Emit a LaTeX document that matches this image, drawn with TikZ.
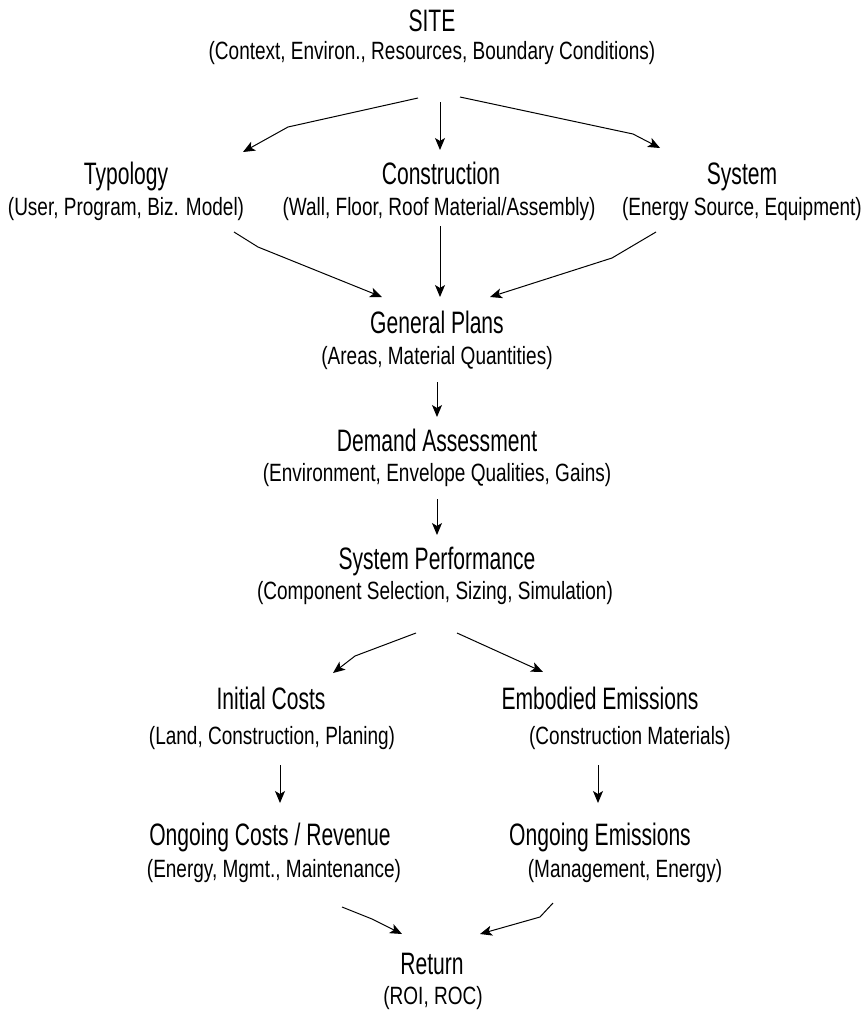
\documentclass[tikz,border=0pt]{standalone}
\usepackage{fontspec}
\setmainfont{Liberation Sans}
\newfontfamily\ttlfam[FakeStretch=0.68]{Liberation Sans}
\newfontfamily\subfam[FakeStretch=0.76]{Liberation Sans}
\usetikzlibrary{arrows.meta}
\tikzset{
  ttl/.style = {inner sep=0pt, outer sep=0pt, text height=22pt, text depth=0pt,
    font=\ttlfam\fontsize{31}{34}\selectfont},% block title
  sub/.style = {inner sep=0pt, outer sep=0pt, text height=18pt, text depth=0pt,
    font=\subfam\fontsize{25}{28}\selectfont},% block details
  flow/.style = {-{Stealth[length=12pt,width=10pt,inset=3pt]}, line width=1pt}
}

\begin{document}
\begin{tikzpicture}[x=1pt,y=-1pt]
  \useasboundingbox (0,0) rectangle (867,1012);
  % site
  \node[ttl] (site) at (432,20) {SITE};
  \node[sub] (sitesub) at (432,50) {(Context, Environ., Resources, Boundary Conditions)};
  % three inputs
  \node[ttl] (typo) at (126,173) {Typology};
  \node[sub] (typosub) at (126,206) {(User, Program, Biz. Model)};
  \node[ttl] (constr) at (441,173) {Construction};
  \node[sub] (constrsub) at (439,206) {(Wall, Floor, Roof Material/Assembly)};
  \node[ttl] (sys) at (742,173) {System};
  \node[sub] (syssub) at (742,206) {(Energy Source, Equipment)};
  % main chain
  \node[ttl] (plans) at (437,322) {General Plans};
  \node[sub] (planssub) at (437,355) {(Areas, Material Quantities)};
  \node[ttl] (demand) at (437,440) {Demand Assessment};
  \node[sub] (demandsub) at (437,472) {(Environment, Envelope Qualities, Gains)};
  \node[ttl] (perf) at (437,558) {System Performance};
  \node[sub] (perfsub) at (435,590) {(Component Selection, Sizing, Simulation)};
  % costs / emissions
  \node[ttl] (initc) at (271,698) {Initial Costs};
  \node[sub] (initcsub) at (272,735) {(Land, Construction, Planing)};
  \node[ttl] (embod) at (600,698) {Embodied Emissions};
  \node[sub] (embodsub) at (630,735) {(Construction Materials)};
  \node[ttl] (ongc) at (270,834) {Ongoing Costs / Revenue};
  \node[sub] (ongcsub) at (274,868) {(Energy, Mgmt., Maintenance)};
  \node[ttl] (onge) at (600,834) {Ongoing Emissions};
  \node[sub] (ongesub) at (625,868) {(Management, Energy)};
  % result
  \node[ttl] (ret) at (432,963) {Return};
  \node[sub] (retsub) at (433,995) {(ROI, ROC)};

  \draw[flow] ([xshift=-14pt,yshift=-39pt]sitesub.south) -- (288,127) -- ([xshift=117pt,yshift=10pt]typo.north);
  \draw[flow] ([xshift=8pt,yshift=-43pt]sitesub.south) -- ([xshift=-1pt,yshift=12pt]constr.north);
  \draw[flow] ([xshift=28pt,yshift=-38pt]sitesub.south) -- (633,134) -- ([xshift=-82pt,yshift=14pt]sys.north);
  \draw[flow] ([xshift=108pt,yshift=-17pt]typosub.south) -- (258,247) -- ([xshift=-55pt,yshift=14pt]plans.north);
  \draw[flow] ([xshift=1pt,yshift=-11pt]constrsub.south) -- ([xshift=3pt,yshift=14pt]plans.north);
  \draw[flow] ([xshift=-86pt,yshift=-17pt]syssub.south) -- (612,258) -- ([xshift=53pt,yshift=14pt]plans.north);
  \draw[flow, shorten <=18pt, shorten >=12pt] (planssub) -- (demand);
  \draw[flow, shorten <=18pt, shorten >=12pt] (demandsub) -- (perf);
  \draw[flow] ([xshift=-19pt,yshift=-34pt]perfsub.south) -- (355,656) -- ([xshift=62pt,yshift=14pt]initc.north);
  \draw[flow] ([xshift=22pt,yshift=-34pt]perfsub.south) -- ([xshift=-57pt,yshift=15pt]embod.north);
  \draw[flow] ([xshift=8pt,yshift=-21pt]initcsub.south) -- ([xshift=10pt,yshift=20pt]ongc.north);
  \draw[flow] ([xshift=-32pt,yshift=-21pt]embodsub.south) -- ([xshift=-2pt,yshift=20pt]onge.north);
  \draw[flow] ([xshift=68pt,yshift=-30pt]ongcsub.south) -- (372,919) -- ([xshift=-30pt,yshift=18pt]ret.north);
  \draw[flow] ([xshift=-72pt,yshift=-26pt]ongesub.south) -- (540,917) -- ([xshift=48pt,yshift=18pt]ret.north);
\end{tikzpicture}
\end{document}
